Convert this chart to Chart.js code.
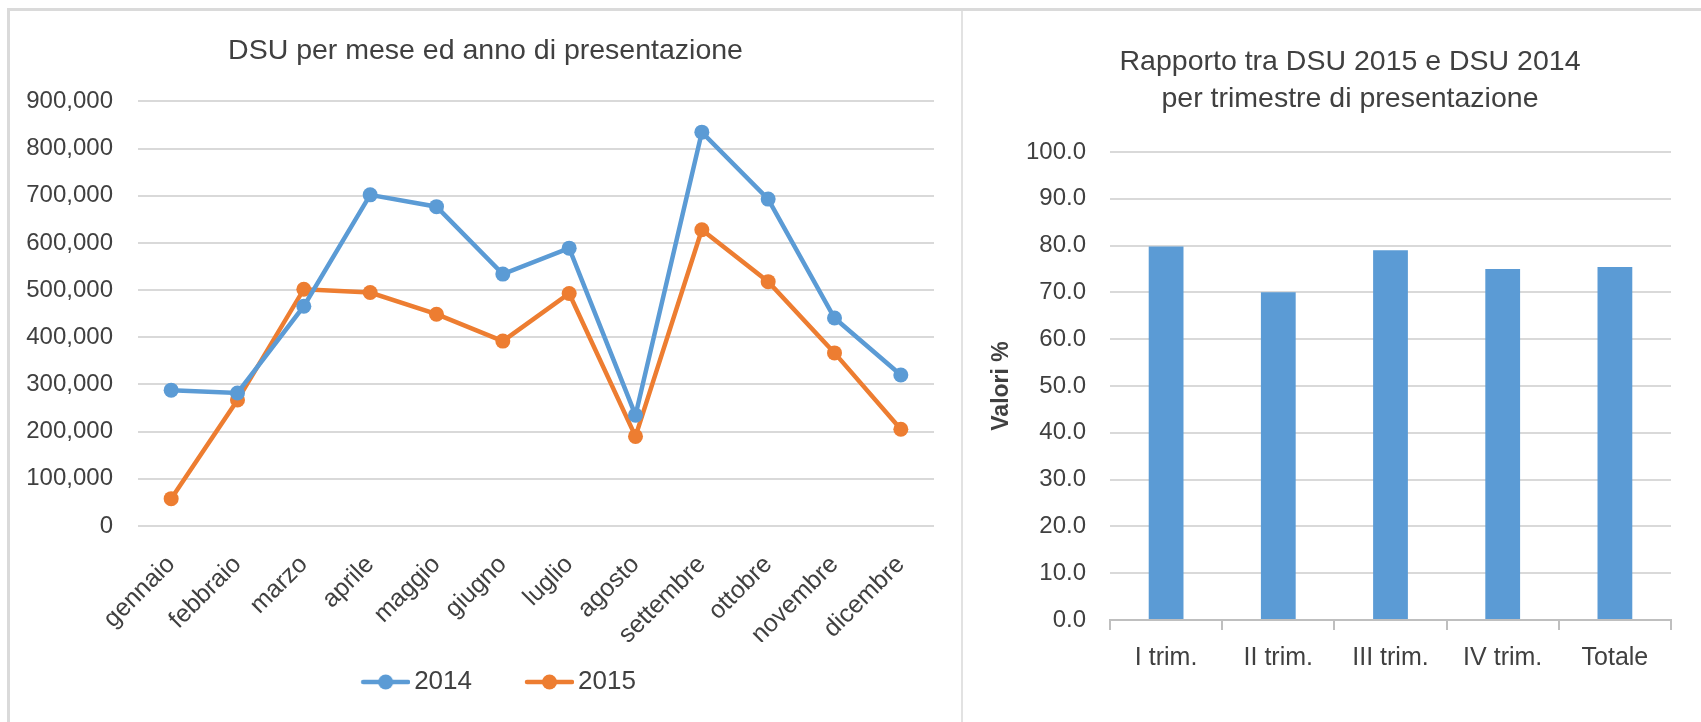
<!DOCTYPE html>
<html>
<head>
<meta charset="utf-8">
<script src="https://cdn.jsdelivr.net/npm/chart.js@4.4.1/dist/chart.umd.min.js"></script>
<style>
    html, body { margin: 0; padding: 0; background: #fff; }
    body { width: 1701px; height: 722px; position: relative; overflow: hidden; }
    #frame { position: absolute; left: 7px; top: 8px; width: 1694px; height: 714px; border-top: 3px solid #dadada; border-left: 3px solid #dadada; box-sizing: border-box; }
    #divider { position: absolute; left: 961px; top: 11px; width: 2px; height: 711px; background: #e2e2e2; }
    #left-wrap { position: absolute; left: 10px; top: 11px; width: 951px; height: 711px; }
    /* the right panel runs past the picture's right edge, as in the cropped original */
    #right-wrap { position: absolute; left: 963px; top: 11px; width: 774px; height: 711px; }
</style>
</head>
<body>
<div id="frame"></div>
<div id="divider"></div>
<div id="left-wrap"><canvas id="dsu-month-chart"></canvas></div>
<div id="right-wrap"><canvas id="dsu-ratio-chart"></canvas></div>
<script>
// data
const months = ['gennaio', 'febbraio', 'marzo', 'aprile', 'maggio', 'giugno',
    'luglio', 'agosto', 'settembre', 'ottobre', 'novembre', 'dicembre'];
const dsu2014 = [288000, 282000, 466000, 702000, 677000, 534000, 589000, 235000, 835000, 693000, 441000, 320000];
const dsu2015 = [58000, 267000, 502000, 495000, 449000, 392000, 493000, 190000, 628000, 518000, 367000, 205000];
const seriesLabels = ['2014', '2015'];

const quarters = ['I trim.', 'II trim.', 'III trim.', 'IV trim.', 'Totale'];
const ratioValues = [79.8, 70.0, 79.0, 75.0, 75.4];

const FONT = "'Liberation Sans', Arial, sans-serif";
const TEXT = '#404040';
const GRID = '#d9d9d9';
const BLUE = '#5b9bd5';
const ORANGE = '#ed7d31';

// legend symbol: short line with a round marker, drawn in the right part of the box
function legendSwatch(color) {
    const c = document.createElement('canvas');
    c.width = 84;
    c.height = 18;
    const g = c.getContext('2d');
    g.strokeStyle = color;
    g.lineWidth = 4.5;
    g.lineCap = 'round';
    g.beginPath();
    g.moveTo(37, 9);
    g.lineTo(82, 9);
    g.stroke();
    g.fillStyle = color;
    g.beginPath();
    g.arc(59.5, 9, 7.5, 0, Math.PI * 2);
    g.fill();
    return c;
}

const swatches = [legendSwatch(BLUE), legendSwatch(ORANGE)];

// empty axis on the right: keeps the plot narrower while titles stay centred on the panel
const spacerAxis = width => ({
    position: 'right',
    display: true,
    grid: { display: false },
    border: { display: false },
    ticks: { display: false },
    afterFit: scale => { scale.width = width; },
});

new Chart(document.getElementById('dsu-month-chart').getContext('2d'), {
    type: 'line',
    data: {
        labels: months,
        datasets: [
            {
                label: seriesLabels[0],
                data: dsu2014,
                borderColor: BLUE,
                backgroundColor: BLUE,
                borderWidth: 4.5,
                pointRadius: 7.5,
                pointBorderWidth: 0,
                tension: 0,
            },
            {
                label: seriesLabels[1],
                data: dsu2015,
                borderColor: ORANGE,
                backgroundColor: ORANGE,
                borderWidth: 4.5,
                pointRadius: 7.5,
                pointBorderWidth: 0,
                tension: 0,
            },
        ],
    },
    options: {
        responsive: true,
        maintainAspectRatio: false,
        animation: false,
        layout: { padding: { left: 0, right: 0, top: 0, bottom: 17 } },
        plugins: {
            title: {
                display: true,
                text: 'DSU per mese ed anno di presentazione',
                color: TEXT,
                font: { family: FONT, size: 28.5, weight: 'normal', lineHeight: 1.35 },
                padding: { top: 21, bottom: 31 },
            },
            legend: {
                position: 'bottom',
                labels: {
                    color: TEXT,
                    font: { family: FONT, size: 26 },
                    usePointStyle: true,
                    pointStyleWidth: 66,
                    padding: 27,
                    generateLabels: chart => chart.data.datasets.map((ds, i) => ({
                        text: ds.label,
                        pointStyle: swatches[i],
                        fillStyle: ds.borderColor,
                        strokeStyle: ds.borderColor,
                        lineWidth: 0,
                        hidden: false,
                        datasetIndex: i,
                        fontColor: TEXT,
                    })),
                },
            },
            tooltip: { enabled: false },
        },
        scales: {
            x: {
                offset: true,
                grid: { display: false },
                border: { display: false },
                ticks: {
                    color: TEXT,
                    font: { family: FONT, size: 25 },
                    minRotation: 45,
                    maxRotation: 45,
                    autoSkip: false,
                    padding: 16,
                },
                afterFit: scale => { scale.height = 116; },
            },
            y: {
                min: 0,
                max: 900000,
                grid: { color: GRID, lineWidth: 2, drawTicks: false },
                border: { display: false },
                ticks: {
                    stepSize: 100000,
                    color: TEXT,
                    font: { family: FONT, size: 24 },
                    padding: 25,
                    callback: value => Number(value).toLocaleString('en-US'),
                },
                afterFit: scale => { scale.width = 128; },
            },
            spacer: spacerAxis(27),
        },
    },
});

new Chart(document.getElementById('dsu-ratio-chart').getContext('2d'), {
    type: 'bar',
    data: {
        labels: quarters,
        datasets: [{
            label: 'Rapporto',
            data: ratioValues,
            backgroundColor: BLUE,
            borderWidth: 0,
            categoryPercentage: 1,
            barPercentage: 0.31,
        }],
    },
    options: {
        responsive: true,
        maintainAspectRatio: false,
        animation: false,
        layout: { padding: 0 },
        plugins: {
            title: {
                display: true,
                text: ['Rapporto tra DSU 2015 e DSU 2014', 'per trimestre di presentazione'],
                color: TEXT,
                font: { family: FONT, size: 28.5, weight: 'normal', lineHeight: 1.28 },
                padding: { top: 33, bottom: 35 },
            },
            legend: { display: false },
            tooltip: { enabled: false },
        },
        scales: {
            x: {
                grid: {
                    display: true,
                    drawOnChartArea: false,
                    drawTicks: true,
                    tickLength: 10,
                    color: '#bfbfbf',
                    lineWidth: 2,
                },
                border: { display: true, color: '#bfbfbf', width: 2 },
                ticks: {
                    color: TEXT,
                    font: { family: FONT, size: 25 },
                    padding: 13,
                },
                afterFit: scale => { scale.height = 102; },
            },
            y: {
                min: 0,
                max: 100,
                grid: { color: GRID, lineWidth: 2, drawTicks: false },
                border: { display: false },
                ticks: {
                    stepSize: 10,
                    color: TEXT,
                    font: { family: FONT, size: 24 },
                    padding: 24,
                    callback: value => Number(value).toFixed(1),
                },
                title: {
                    display: true,
                    text: 'Valori %',
                    color: TEXT,
                    font: { family: FONT, size: 23, weight: 'bold' },
                    padding: { top: 25, bottom: 0 },
                },
                afterFit: scale => { scale.width = 147; },
            },
            spacer: spacerAxis(66),
        },
    },
});
</script>
</body>
</html>
